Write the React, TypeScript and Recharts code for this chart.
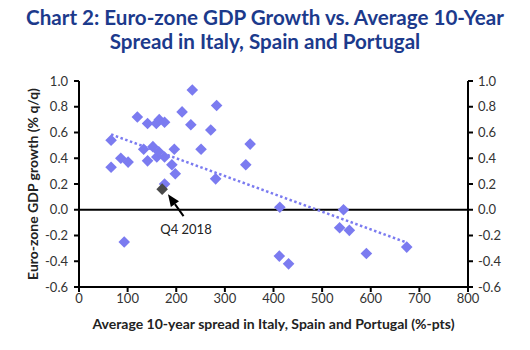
import React from "react";
import {
  ScatterChart,
  Scatter,
  XAxis,
  YAxis,
  ReferenceLine,
  ReferenceDot,
} from "recharts";

// average 10y spread (bp) vs euro-zone GDP growth (% q/q)
const spreads = [
  66, 66, 86, 101, 120, 133, 141, 141, 152, 159, 165, 176, 160, 164, 176, 196,
  191, 198, 176, 212, 233, 230, 251, 271, 283, 281, 343, 352, 413, 544, 536,
  556, 591, 674, 93, 412, 431,
];
const growth = [
  0.54, 0.33, 0.4, 0.37, 0.72, 0.47, 0.67, 0.38, 0.49, 0.67, 0.7, 0.68, 0.41,
  0.45, 0.41, 0.47, 0.35, 0.28, 0.2, 0.76, 0.93, 0.66, 0.47, 0.62, 0.81, 0.24,
  0.35, 0.51, 0.02, 0.0, -0.14, -0.16, -0.34, -0.29, -0.25, -0.36, -0.42,
];
const latest = [{ x: 171, y: 0.16 }]; // Q4 2018
const trendStart = { x: 66, y: 0.585 };
const trendEnd = { x: 674, y: -0.255 };
const xTicks = [0, 100, 200, 300, 400, 500, 600, 700, 800];
const yTicks = [-0.6, -0.4, -0.2, 0, 0.2, 0.4, 0.6, 0.8, 1.0];

const points = spreads.map((x, i) => ({ x, y: growth[i] }));

const BLUE = "#7b7bf0";
const TITLE = "#1c3a8c";
const FONT = "Lato, 'Open Sans', sans-serif";

const Diamond = (fill: string) => (props: any) => {
  const { cx, cy } = props;
  const r = 5.8;
  return (
    <polygon
      points={`${cx},${cy - r} ${cx + r},${cy} ${cx},${cy + r} ${cx - r},${cy}`}
      fill={fill}
    />
  );
};

const Hidden = () => <g />;

const Arrow = (props: any) => {
  const { x1, y1, x2, y2 } = props;
  // tip at (x2,y2)
  const ang = Math.atan2(y2 - y1, x2 - x1);
  const len = 12;
  const w = 5;
  const bx = x2 - len * Math.cos(ang);
  const by = y2 - len * Math.sin(ang);
  const px = -Math.sin(ang) * w;
  const py = Math.cos(ang) * w;
  return (
    <g>
      <line x1={x1} y1={y1} x2={bx} y2={by} stroke="#000" strokeWidth={2} />
      <polygon
        points={`${x2},${y2} ${bx + px},${by + py} ${bx - px},${by - py}`}
        fill="#000"
      />
    </g>
  );
};

const tickStyle = { fontSize: 13, fill: "#333", fontFamily: FONT };
const axisTitle = { fontSize: 14, fontWeight: 700, fill: "#222", fontFamily: FONT };

export default function App() {
  return (
    <div
      style={{
        position: "absolute",
        left: 0,
        top: 0,
        width: 530,
        height: 350,
        background: "#fff",
        fontFamily: FONT,
      }}
    >
      <div
        style={{
          textAlign: "center",
          color: TITLE,
          fontWeight: 700,
          fontSize: 20.6,
          lineHeight: "24px",
          paddingTop: 5,
          height: 50,
          whiteSpace: "nowrap",
        }}
      >
        Chart 2: Euro-zone GDP Growth vs. Average 10-Year
        <br />
        Spread in Italy, Spain and Portugal
      </div>
      <ScatterChart
        width={530}
        height={295}
        margin={{ top: 26, right: 12, bottom: 13, left: 0 }}
      >
        <XAxis
          type="number"
          dataKey="x"
          domain={[0, 800]}
          ticks={xTicks}
          tick={tickStyle}
          tickLine={{ stroke: "#000", strokeWidth: 2 }}
          tickSize={5}
          axisLine={{ stroke: "#000", strokeWidth: 2 }}
          height={50}
          label={{
            value: "Average 10-year spread in Italy, Spain and Portugal (%-pts)",
            position: "insideBottom",
            offset: 8,
            style: axisTitle,
          }}
        />
        <YAxis
          yAxisId="l"
          type="number"
          dataKey="y"
          domain={[-0.6, 1.0]}
          ticks={yTicks}
          tickFormatter={(v: number) => v.toFixed(1)}
          tick={tickStyle}
          tickLine={{ stroke: "#000", strokeWidth: 2 }}
          tickSize={5}
          tickMargin={6}
          axisLine={{ stroke: "#000", strokeWidth: 2 }}
          width={79}
          label={{
            value: "Euro-zone GDP growth (% q/q)",
            angle: -90,
            position: "insideLeft",
            offset: 33,
            style: { ...axisTitle, textAnchor: "middle" },
          }}
        />
        <YAxis
          yAxisId="r"
          orientation="right"
          type="number"
          dataKey="y"
          domain={[-0.6, 1.0]}
          ticks={yTicks}
          tickFormatter={(v: number) => v.toFixed(1)}
          tick={tickStyle}
          tickLine={{ stroke: "#000", strokeWidth: 2 }}
          tickSize={5}
          tickMargin={5}
          axisLine={{ stroke: "#000", strokeWidth: 2 }}
          width={50}
        />
        <ReferenceLine yAxisId="l" y={0} stroke="#000" strokeWidth={2} />
        <ReferenceLine
          yAxisId="l"
          segment={[trendStart, trendEnd]}
          stroke={BLUE}
          strokeWidth={2.5}
          strokeDasharray="2.5 2.5"
        />
        <Scatter
          yAxisId="r"
          data={points}
          shape={Hidden}
          isAnimationActive={false}
        />
        <Scatter
          yAxisId="l"
          data={points}
          shape={Diamond(BLUE)}
          isAnimationActive={false}
        />
        <Scatter
          yAxisId="l"
          data={latest}
          shape={Diamond("#4a4a4a")}
          isAnimationActive={false}
        />
        <ReferenceLine
          yAxisId="l"
          segment={[
            { x: 215, y: -0.05 },
            { x: 183, y: 0.12 },
          ]}
          shape={Arrow}
        />
        <ReferenceDot
          yAxisId="l"
          x={220}
          y={-0.15}
          r={0}
          fill="none"
          stroke="none"
          label={{
            value: "Q4 2018",
            position: "center",
            style: { fontSize: 13, fill: "#222", fontFamily: FONT },
          }}
        />
      </ScatterChart>
    </div>
  );
}
